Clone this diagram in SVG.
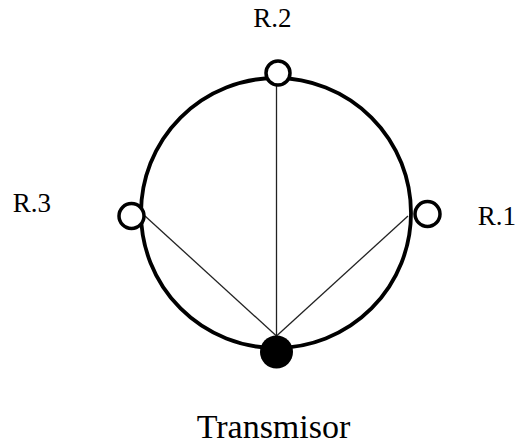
<svg xmlns="http://www.w3.org/2000/svg" width="518" height="448" viewBox="0 0 518 448">
<style>
.lbl{font-family:"Liberation Serif","Times New Roman",serif;fill:#000;text-anchor:middle}
.spoke{stroke:#222;stroke-width:1.3;fill:none}
.ring{stroke:#000;stroke-width:3.8;fill:none}
.rx{stroke:#000;stroke-width:3.5;fill:#fff}
</style>
<rect width="518" height="448" fill="#fff"/>
<g id="ring"><circle class="ring" cx="276" cy="213" r="135"/></g>
<g id="connectors">
<line class="spoke" x1="276.5" y1="336" x2="276.5" y2="85"/>
<line class="spoke" x1="276.5" y1="336" x2="145" y2="216"/>
<line class="spoke" x1="276.5" y1="336" x2="408" y2="216"/>
</g>
<g id="r2"><circle class="rx" cx="278" cy="73" r="12"/><text class="lbl" x="272.5" y="27" font-size="27">R.2</text></g>
<g id="r3"><circle class="rx" cx="131.5" cy="216" r="12.5"/><text class="lbl" x="32" y="212" font-size="27">R.3</text></g>
<g id="r1"><circle class="rx" cx="427.5" cy="214" r="12.5"/><text class="lbl" x="497" y="225" font-size="27">R.1</text></g>
<g id="transmisor"><circle cx="276.5" cy="352" r="16.5" fill="#000"/><text class="lbl" x="273.5" y="438" font-size="34">Transmisor</text></g>
</svg>
